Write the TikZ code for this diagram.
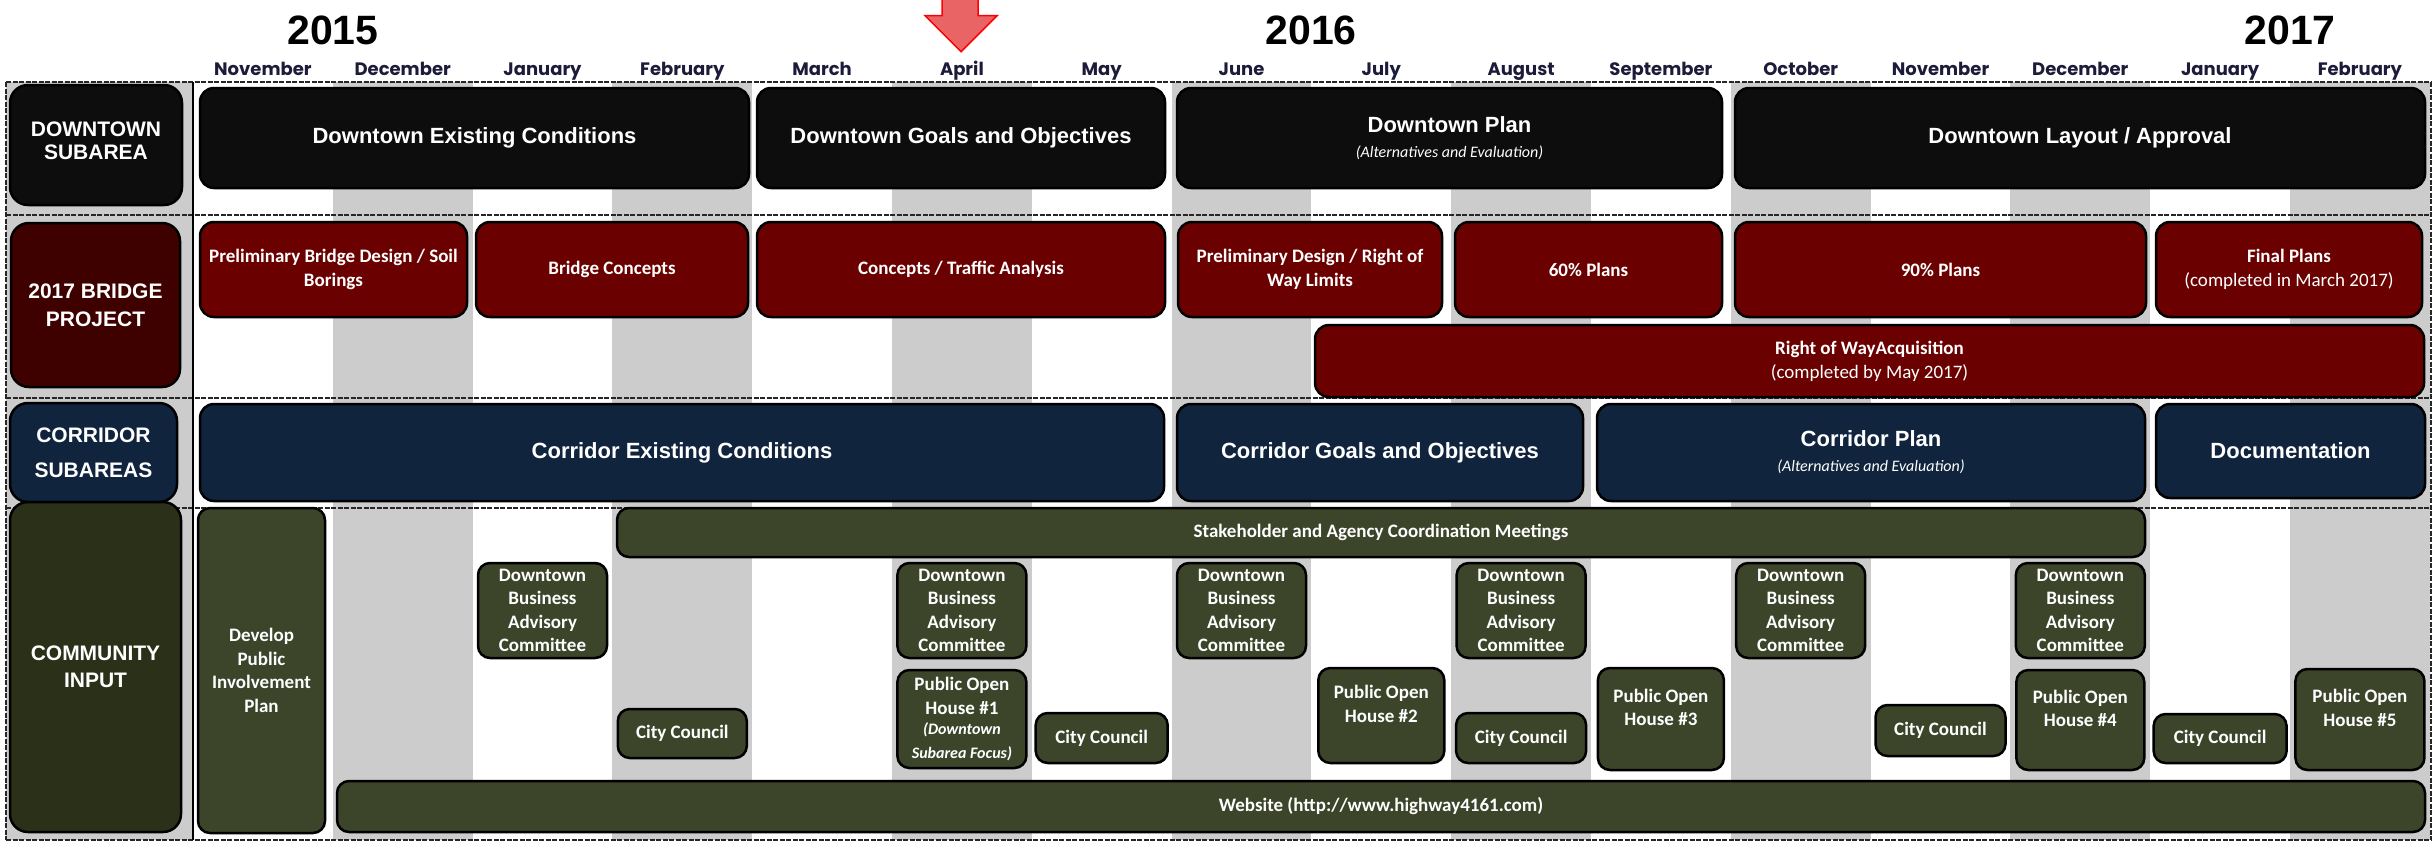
\documentclass[tikz,border=0pt]{standalone}
\usepackage{fontspec}
\setmainfont{Carlito}
\newfontfamily\arialfont{Liberation Sans}
\newfontfamily\monthfont{Poppins}
\newcommand\subfnt{\normalfont\itshape\fontsize{16}{18}\selectfont}
\newcommand\focusfnt{\itshape\fontsize{16}{20}\selectfont}
\definecolor{dtblack}{HTML}{0D0D0D}
\definecolor{brred}{HTML}{6A0000}
\definecolor{brlabel}{HTML}{3F0000}
\definecolor{conavy}{HTML}{10243E}
\definecolor{ciolive}{HTML}{3C442A}
\definecolor{cilabel}{HTML}{2B3118}
\definecolor{stripegray}{HTML}{CCCCCC}
\definecolor{monthink}{HTML}{1C1C3A}
\definecolor{arrowred}{HTML}{E96464}
\begin{document}
\begin{tikzpicture}[x=1pt,y=-1pt]
\tikzset{
  box/.style={draw=black, line width=2.5pt, rounded corners=14pt, inner sep=0pt, align=center, text=white},
  lblbox/.style={box, rounded corners=18pt, font=\arialfont\bfseries\fontsize{21}{23}\selectfont},
  dtbox/.style={box, fill=dtblack, font=\arialfont\bfseries\fontsize{22}{25}\selectfont},
  brbox/.style={box, fill=brred, font=\bfseries\fontsize{19}{24}\selectfont},
  cobox/.style={box, fill=conavy, font=\arialfont\bfseries\fontsize{22}{25}\selectfont},
  cibox/.style={box, fill=ciolive, rounded corners=12pt, font=\bfseries\fontsize{19}{23.5}\selectfont},
  month/.style={anchor=base, font=\monthfont\bfseries\fontsize{18}{20}\selectfont, text=monthink},
  year/.style={font=\arialfont\bfseries\fontsize{41}{42}\selectfont},
  sepline/.style={draw=black!85, line width=2.2pt, dash pattern=on 5pt off 1.5pt}
}
\useasboundingbox (0,0) rectangle (2433,843);
\fill[stripegray] (6,82) rectangle (193,840);
\fill[stripegray] (332.8,82) rectangle (472.6,840);
\fill[stripegray] (612.4,82) rectangle (752.2,840);
\fill[stripegray] (892,82) rectangle (1031.8,840);
\fill[stripegray] (1171.6,82) rectangle (1311.4,840);
\fill[stripegray] (1451.2,82) rectangle (1591,840);
\fill[stripegray] (1730.8,82) rectangle (1870.6,840);
\fill[stripegray] (2010.4,82) rectangle (2150.2,840);
\fill[stripegray] (2290,82) rectangle (2429.8,840);
\draw[sepline] (6,82) -- (2431,82);
\draw[sepline] (6,215) -- (2431,215);
\draw[sepline] (6,398) -- (2431,398);
\draw[sepline] (6,508) -- (2431,508);
\draw[sepline] (6,840) -- (2431,840);
\draw[sepline] (6,82) -- (6,840);
\draw[sepline] (2431,82) -- (2431,840);
\draw[line width=2.5pt] (193,82) -- (193,840);

\node[year] (y2015) at (333,30) {2015};
\node[year] (y2016) at (1311,30) {2016};
\node[year] (y2017) at (2290,30) {2017};
\node[month] (mnov) at (262.9,76) {November};
\node[month] (mdec) at (402.7,76) {December};
\node[month] (mjan) at (542.5,76) {January};
\node[month] (mfeb) at (682.3,76) {February};
\node[month] (mmar) at (822.1,76) {March};
\node[month] (mapr) at (961.9,76) {April};
\node[month] (mmay) at (1101.7,76) {May};
\node[month] (mjun) at (1241.5,76) {June};
\node[month] (mjul) at (1381.3,76) {July};
\node[month] (maug) at (1521.1,76) {August};
\node[month] (msep) at (1660.9,76) {September};
\node[month] (moct) at (1800.7,76) {October};
\node[month] (mnovb) at (1940.5,76) {November};
\node[month] (mdecb) at (2080.3,76) {December};
\node[month] (mjanb) at (2220.1,76) {January};
\node[month] (mfebb) at (2359.9,76) {February};
\draw[fill=arrowred, draw=red, line width=1.5pt] (942,-2) -- (978,-2) -- (978,15.7) -- (997,15.7) -- (961,51.7) -- (925,15.7) -- (942,15.7) -- cycle;

\node[lblbox, fill=dtblack, minimum width=172pt, minimum height=120pt] (lbldt) at (96,145) {DOWNTOWN\\SUBAREA\\[-14pt]~};
\node[lblbox, fill=brlabel, minimum width=169pt, minimum height=164pt] (lblbr) at (95.5,305) {2017 BRIDGE\\[5pt]PROJECT};
\node[lblbox, fill=conavy, minimum width=167pt, minimum height=99pt] (lblco) at (93.5,452.5) {CORRIDOR\\[12pt]SUBAREAS};
\node[lblbox, fill=cilabel, minimum width=171pt, minimum height=330pt] (lblci) at (95.5,667) {COMMUNITY\\[4pt]INPUT};

\node[dtbox, minimum width=549pt, minimum height=100pt] (dtexist) at (474.5,138) {Downtown Existing Conditions};
\node[dtbox, minimum width=408pt, minimum height=100pt] (dtgoals) at (961,138) {Downtown Goals and Objectives};
\node[dtbox, minimum width=545pt, minimum height=100pt] (dtplan) at (1449.5,138) {Downtown Plan\\{\subfnt (Alternatives and Evaluation)}};
\node[dtbox, minimum width=690pt, minimum height=100pt] (dtlayout) at (2080,138) {Downtown Layout / Approval};

\node[brbox, minimum width=267pt, minimum height=95pt] (brprelim) at (333.5,269.5) {Preliminary Bridge Design / Soil\\Borings};
\node[brbox, minimum width=272pt, minimum height=95pt] (brconcept) at (612,269.5) {Bridge Concepts};
\node[brbox, minimum width=408pt, minimum height=95pt] (brtraffic) at (961,269.5) {Concepts / Traffic Analysis};
\node[brbox, minimum width=264pt, minimum height=95pt] (brdesign) at (1310,269.5) {Preliminary Design / Right of\\Way Limits};
\node[brbox, minimum width=267pt, minimum height=95pt] (brsixty) at (1588.5,269.5) {60\% Plans};
\node[brbox, minimum width=411pt, minimum height=95pt] (brninety) at (1940.5,269.5) {90\% Plans};
\node[brbox, minimum width=266pt, minimum height=95pt] (brfinal) at (2289,269.5) {Final Plans\\{\mdseries (completed in March 2017)}};
\node[brbox, minimum width=1109pt, minimum height=72pt] (brrow) at (1869.5,361) {Right of WayAcquisition\\{\mdseries (completed by May 2017)}};

\node[cobox, minimum width=964pt, minimum height=97pt] (coexist) at (682,452.5) {Corridor Existing Conditions};
\node[cobox, minimum width=406pt, minimum height=97pt] (cogoals) at (1380,452.5) {Corridor Goals and Objectives};
\node[cobox, minimum width=548pt, minimum height=97pt] (coplan) at (1871,452.5) {Corridor Plan\\{\subfnt (Alternatives and Evaluation)}};
\node[cobox, minimum width=269pt, minimum height=94pt] (codoc) at (2290.5,451) {Documentation};

\node[cibox, minimum width=127pt, minimum height=325pt] (cidevelop) at (261.5,670.5) {Develop\\Public\\Involvement\\Plan};
\node[cibox, minimum width=1528pt, minimum height=49pt] (cistake) at (1381,532.5) {Stakeholder and Agency Coordination Meetings};
\node[cibox, minimum width=2088pt, minimum height=51pt] (ciweb) at (1381,806.5) {Website (http://www.highway4161.com)};

\node[cibox, minimum width=129pt, minimum height=95pt] (cidbaca) at (542.5,610.5) {Downtown\\Business\\Advisory\\Committee};
\node[cibox, minimum width=129pt, minimum height=95pt] (cidbacb) at (961.9,610.5) {Downtown\\Business\\Advisory\\Committee};
\node[cibox, minimum width=129pt, minimum height=95pt] (cidbacc) at (1241.5,610.5) {Downtown\\Business\\Advisory\\Committee};
\node[cibox, minimum width=129pt, minimum height=95pt] (cidbacd) at (1521.1,610.5) {Downtown\\Business\\Advisory\\Committee};
\node[cibox, minimum width=129pt, minimum height=95pt] (cidbace) at (1800.7,610.5) {Downtown\\Business\\Advisory\\Committee};
\node[cibox, minimum width=129pt, minimum height=95pt] (cidbacf) at (2080.3,610.5) {Downtown\\Business\\Advisory\\Committee};

\node[cibox, minimum width=129pt, minimum height=49pt] (cicca) at (682.3,733.5) {City Council};
\node[cibox, minimum width=132pt, minimum height=50pt] (ciccb) at (1101.7,738) {City Council};
\node[cibox, minimum width=130pt, minimum height=50pt] (ciccc) at (1521.1,738) {City Council};
\node[cibox, minimum width=130pt, minimum height=51pt] (ciccd) at (1940.5,730.5) {City Council};
\node[cibox, minimum width=133pt, minimum height=49pt] (cicce) at (2220.1,738.5) {City Council};

\node[cibox, minimum width=129pt, minimum height=98pt] (cipoha) at (961.9,719) {Public Open\\House \#1\\[-3pt]{\focusfnt (Downtown}\\{\focusfnt Subarea Focus)}};
\node[cibox, minimum width=126pt, minimum height=95pt] (cipohb) at (1381.3,715.5) {Public Open\\House \#2\\~};
\node[cibox, minimum width=126pt, minimum height=102pt] (cipohc) at (1660.9,719) {Public Open\\House \#3\\~};
\node[cibox, minimum width=128pt, minimum height=100pt] (cipohd) at (2080.3,720) {Public Open\\House \#4\\~};
\node[cibox, minimum width=129pt, minimum height=101pt] (cipohe) at (2359.9,719.5) {Public Open\\House \#5\\~};
\end{tikzpicture}
\end{document}
